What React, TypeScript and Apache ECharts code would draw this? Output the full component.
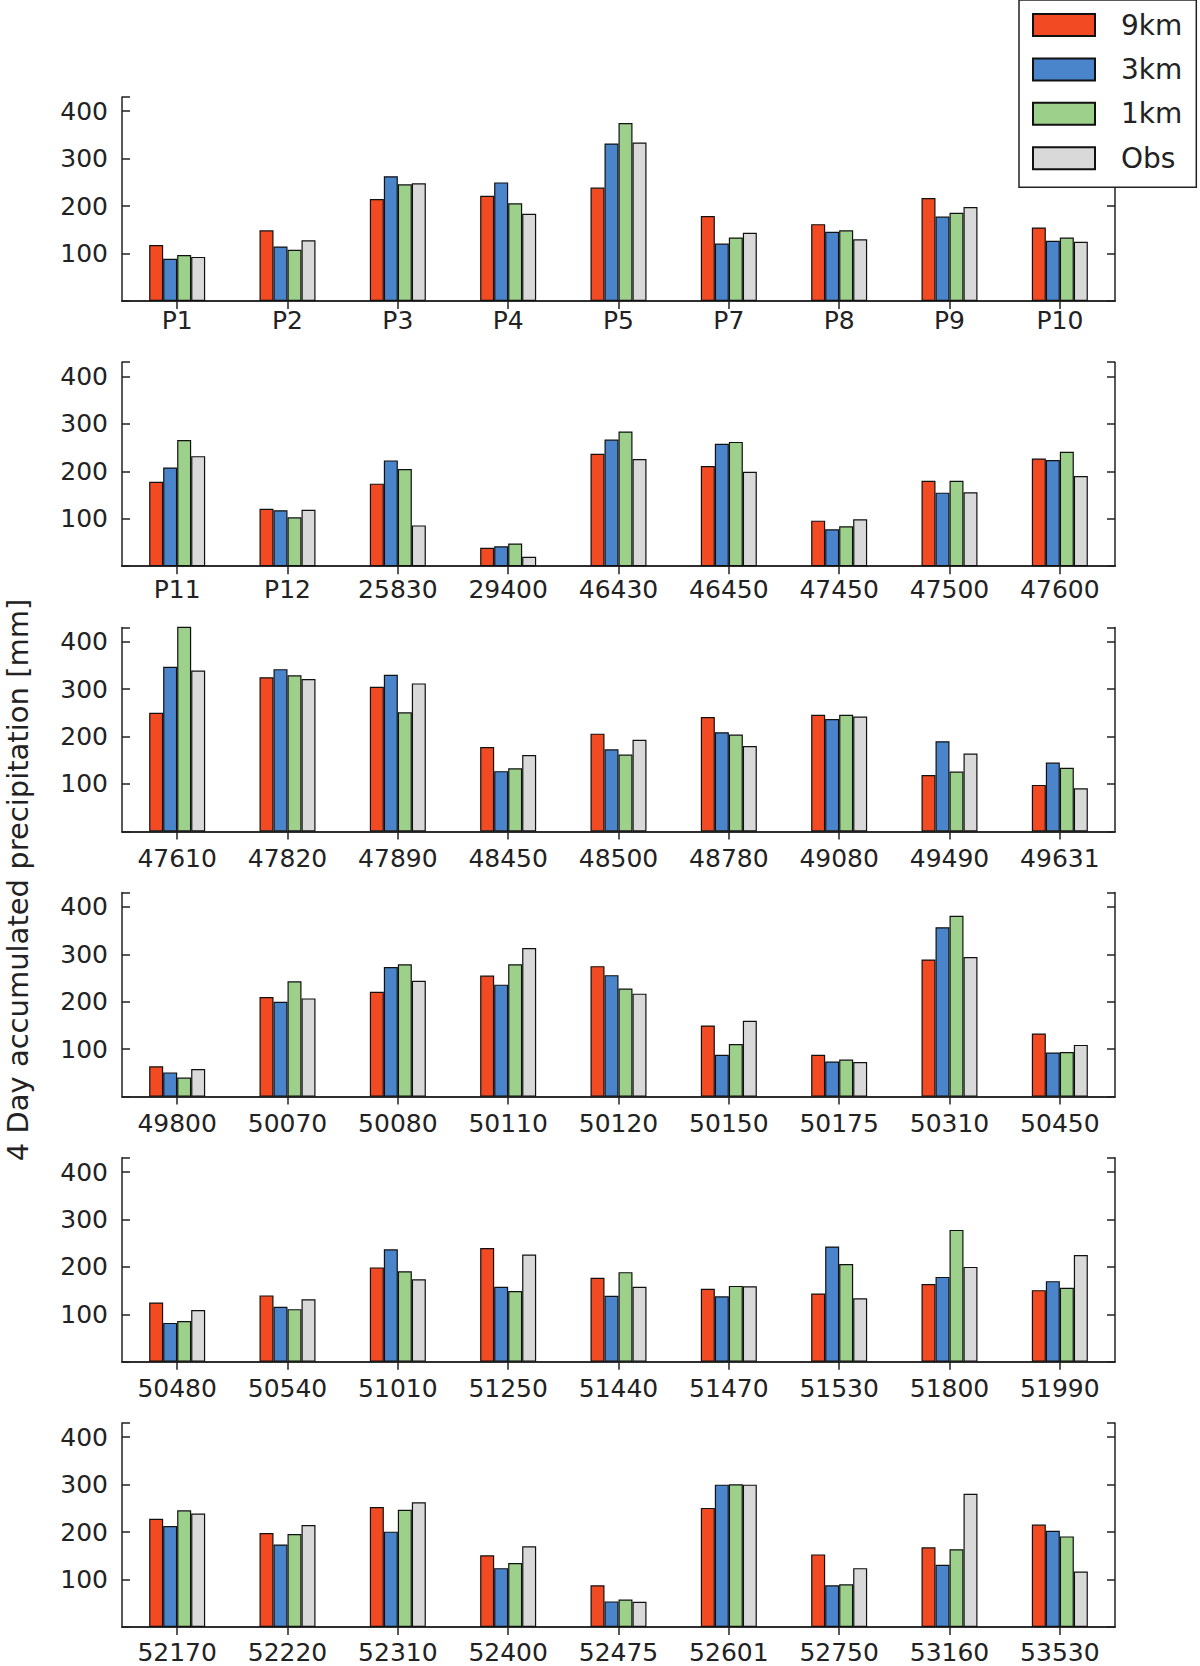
import React, { useEffect, useRef } from "react";
import * as echarts from "echarts";

const seriesNames = ["9km", "3km", "1km", "Obs"];
const seriesColors = ["#F24A22", "#4A84CA", "#9DD08A", "#D9D9D9"];

const stations1 = ["P1", "P2", "P3", "P4", "P5", "P7", "P8", "P9", "P10"];
const stations2 = ["P11", "P12", "25830", "29400", "46430", "46450", "47450", "47500", "47600"];
const stations3 = ["47610", "47820", "47890", "48450", "48500", "48780", "49080", "49490", "49631"];
const stations4 = ["49800", "50070", "50080", "50110", "50120", "50150", "50175", "50310", "50450"];
const stations5 = ["50480", "50540", "51010", "51250", "51440", "51470", "51530", "51800", "51990"];
const stations6 = ["52170", "52220", "52310", "52400", "52475", "52601", "52750", "53160", "53530"];

// panel 1
const p1_9km = [118, 149, 215, 222, 239, 179, 162, 217, 155];
const p1_3km = [89, 115, 263, 250, 332, 121, 146, 178, 127];
const p1_1km = [97, 108, 246, 206, 375, 134, 149, 186, 134];
const p1_obs = [93, 128, 248, 184, 334, 144, 130, 198, 125];
// panel 2
const p2_9km = [178, 121, 174, 39, 237, 211, 96, 180, 227];
const p2_3km = [208, 118, 223, 42, 267, 258, 78, 155, 224];
const p2_1km = [266, 103, 205, 48, 284, 262, 84, 180, 241];
const p2_obs = [232, 119, 86, 20, 226, 199, 99, 156, 190];
// panel 3
const p3_9km = [250, 325, 305, 178, 206, 241, 246, 119, 98];
const p3_3km = [347, 342, 330, 127, 173, 209, 237, 190, 145];
const p3_1km = [440, 329, 251, 133, 162, 204, 246, 126, 134];
const p3_obs = [339, 321, 312, 161, 193, 180, 242, 164, 91];
// panel 4
const p4_9km = [64, 210, 221, 255, 275, 150, 88, 289, 133];
const p4_3km = [51, 200, 273, 236, 256, 88, 74, 357, 93];
const p4_1km = [40, 243, 279, 279, 228, 111, 78, 381, 94];
const p4_obs = [58, 207, 244, 313, 217, 160, 73, 294, 109];
// panel 5
const p5_9km = [125, 140, 199, 240, 177, 154, 144, 164, 151];
const p5_3km = [82, 116, 237, 158, 139, 138, 243, 179, 170];
const p5_1km = [86, 111, 191, 149, 189, 160, 206, 278, 156];
const p5_obs = [109, 132, 174, 226, 158, 159, 134, 200, 225];
// panel 6
const p6_9km = [228, 198, 253, 151, 88, 251, 153, 168, 216];
const p6_3km = [213, 174, 201, 124, 54, 300, 88, 131, 203];
const p6_1km = [246, 196, 247, 135, 58, 301, 90, 164, 191];
const p6_obs = [239, 215, 263, 170, 53, 300, 124, 281, 117];

const yTicks = [100, 200, 300, 400];
const yMax = 430;
const yLabel = "4 Day accumulated precipitation [mm]";

const panels = [
  { cats: stations1, values: [p1_9km, p1_3km, p1_1km, p1_obs] },
  { cats: stations2, values: [p2_9km, p2_3km, p2_1km, p2_obs] },
  { cats: stations3, values: [p3_9km, p3_3km, p3_1km, p3_obs] },
  { cats: stations4, values: [p4_9km, p4_3km, p4_1km, p4_obs] },
  { cats: stations5, values: [p5_9km, p5_3km, p5_1km, p5_obs] },
  { cats: stations6, values: [p6_9km, p6_3km, p6_1km, p6_obs] },
];
const labelMargins = [7, 11, 15, 15, 15, 13];

const FONT = "DejaVu Sans";
const INK = "#222";

export default function App() {
  const ref = useRef<HTMLDivElement>(null);

  useEffect(() => {
    document.body.style.margin = "0";
    if (!ref.current) return;
    const chart = echarts.init(ref.current, undefined, { renderer: "svg" });

    const lineStyle = { color: INK, width: 1.5 };
    const grid: any[] = [];
    const xAxis: any[] = [];
    const yAxis: any[] = [];
    const series: any[] = [];

    panels.forEach((p, i) => {
      grid.push({ left: 122, right: 85, top: 97 + i * 265.2, height: 204 });
      xAxis.push({
        type: "category",
        gridIndex: i,
        data: p.cats,
        position: "bottom",
        axisLine: { show: true, lineStyle },
        axisTick: { show: false },
        axisLabel: {
          fontSize: 25,
          lineHeight: 24,
          color: INK,
          fontFamily: FONT,
          margin: labelMargins[i],
          interval: 0,
        },
      });
      xAxis.push({
        type: "category",
        gridIndex: i,
        data: p.cats,
        position: "top",
        axisLine: { show: true, lineStyle },
        axisTick: { show: true, inside: true, alignWithLabel: true, length: 8, lineStyle },
        axisLabel: { show: false },
      });
      yAxis.push({
        type: "value",
        gridIndex: i,
        min: 0,
        max: yMax,
        interval: 100,
        position: "left",
        axisLine: { show: true, lineStyle },
        axisTick: { show: true, inside: true, length: 8, lineStyle },
        splitLine: { show: false },
        axisLabel: {
          fontSize: 25,
          color: INK,
          fontFamily: FONT,
          margin: 14,
          formatter: (v: number) => (yTicks.indexOf(v) >= 0 ? String(v) : ""),
        },
      });
      yAxis.push({
        type: "value",
        gridIndex: i,
        min: 0,
        max: yMax,
        interval: 100,
        position: "right",
        axisLine: { show: true, lineStyle },
        axisTick: { show: true, inside: true, length: 8, lineStyle },
        splitLine: { show: false },
        axisLabel: { show: false },
      });
      p.values.forEach((vals, s) => {
        series.push({
          type: "bar",
          name: seriesNames[s],
          xAxisIndex: 2 * i,
          yAxisIndex: 2 * i,
          data: vals,
          barWidth: 14,
          barGap: "0%",
          itemStyle: { color: seriesColors[s], borderColor: "#111", borderWidth: 1.2 },
        });
      });
    });

    chart.setOption({
      animation: false,
      backgroundColor: "#fff",
      grid,
      xAxis,
      yAxis,
      series,
      legend: {
        data: seriesNames,
        icon: "rect",
        orient: "vertical",
        left: 1019,
        top: 0,
        z: 10,
        itemWidth: 62,
        itemHeight: 22,
        itemGap: 16.4,
        padding: [11, 14, 15, 13],
        borderColor: INK,
        borderWidth: 1.5,
        backgroundColor: "#fff",
        selectedMode: false,
        textStyle: { fontSize: 28, fontFamily: FONT, color: INK, lineHeight: 22, padding: [0, 0, 0, 21] },
      },
      graphic: [
        {
          type: "text",
          x: 18,
          y: 880,
          rotation: Math.PI / 2,
          style: {
            text: yLabel,
            fontSize: 29,
            fontFamily: FONT,
            fill: INK,
            align: "center",
            verticalAlign: "middle",
          },
        },
      ],
    });

    return () => chart.dispose();
  }, []);

  return <div ref={ref} style={{ width: 1200, height: 1666 }} />;
}
